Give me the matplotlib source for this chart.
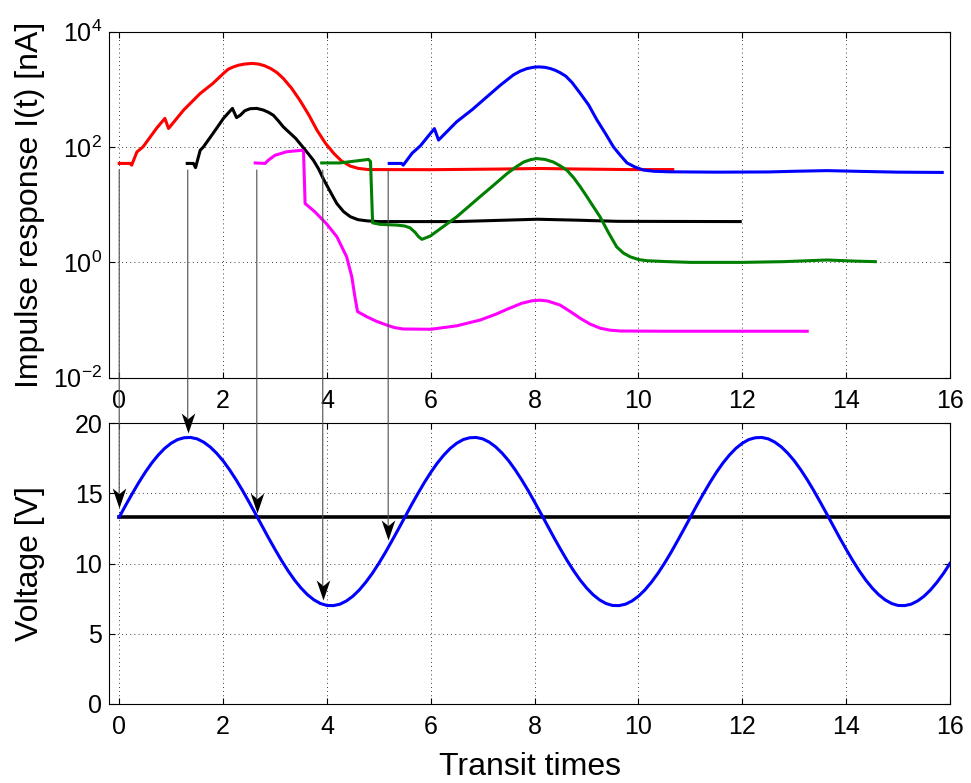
# Impulse response of the detector (top, log scale) and the applied voltage (bottom)
# Arrows link the start of each response to the voltage at that instant


# import libraries
import matplotlib
matplotlib.use("Agg")
import matplotlib.pyplot as plt
from matplotlib.patches import ConnectionPatch
from matplotlib.path import Path


# response curves (time in transit times, current in nA)
red_t = [0.0, 0.21, 0.24, 0.34, 0.46, 0.72, 0.88, 0.95, 1.24, 1.56, 1.80, 2.01, 2.10, 2.20, 2.30, 2.42, 2.55, 2.68,
         2.80, 2.92, 3.04, 3.16, 3.32, 3.48, 3.65, 3.81, 3.97, 4.13, 4.28, 4.45, 4.60, 4.80, 6.0, 7.3, 8.1, 8.9,
         9.8, 10.66]
red_I = [52, 52, 48.5, 82, 101, 212, 314, 210, 437, 850, 1259, 1900, 2239, 2455, 2630, 2754, 2818, 2754,
         2570, 2291, 1950, 1549, 1047, 646, 363, 195, 117, 78, 57.5, 46.8, 42.7, 40.7, 40.5, 41.5, 42.5, 41.5,
         40.7, 40.7]

black_t = [1.31, 1.43, 1.47, 1.56, 1.62, 1.81, 2.01, 2.18, 2.26, 2.33, 2.42, 2.52, 2.65, 2.78, 2.88, 2.97, 3.06,
           3.16, 3.29, 3.40, 3.48, 3.61, 3.74, 3.84, 3.93, 4.05, 4.19, 4.32, 4.45, 4.60, 4.77, 5.0, 6.5, 7.3,
           8.05, 8.8, 9.6, 11.96]
black_I = [52, 52, 44, 88, 100, 174, 316, 468, 324, 355, 427, 462, 468, 437, 398, 355, 288,
           224, 174, 141, 115, 83, 59, 41.7, 28.2, 17.8, 10.5, 7.6, 6.2, 5.5, 5.25, 5.1, 5.1, 5.35,
           5.6, 5.4, 5.15, 5.1]

magenta_t = [2.62, 2.81, 2.87, 3.0, 3.23, 3.52, 3.55, 3.58, 3.77, 3.99, 4.19, 4.38, 4.48, 4.54, 4.59, 4.77, 4.95,
             5.15, 5.30, 5.47, 6.0, 6.5, 6.95, 7.25, 7.5, 7.75, 7.95, 8.1, 8.25, 8.49, 8.7, 8.88, 9.07, 9.26,
             9.45, 9.65, 10.5, 13.25]
magenta_I = [53, 52, 59, 72, 83, 88, 83, 10.5, 7.5, 4.7, 2.8, 1.25, 0.56, 0.25, 0.14, 0.114, 0.0955,
             0.082, 0.074, 0.070, 0.0692, 0.0794, 0.100, 0.126, 0.158, 0.195, 0.216, 0.221, 0.214, 0.182, 0.138,
             0.107, 0.0851, 0.0724, 0.0668, 0.0646, 0.064, 0.064]

green_t = [3.90, 4.25, 4.80, 4.84, 4.88, 5.02, 5.35, 5.50, 5.60, 5.70, 5.76, 5.83, 5.99, 6.5, 6.95, 7.2, 7.47, 7.65,
           7.79, 7.92, 8.04, 8.2, 8.36, 8.5, 8.62, 8.75, 8.88, 9.0, 9.13, 9.26, 9.42, 9.58, 9.71, 9.84, 10.0,
           10.16, 10.5, 11.0, 12.0, 12.8, 13.63, 14.2, 14.56]
green_I = [53, 53, 61, 56, 4.85, 4.57, 4.43, 4.27, 3.98, 3.31, 2.82, 2.51, 2.86, 6.17, 13.8, 21.4, 34.7, 45.7,
           55, 60.3, 63.1, 61, 55, 46.8, 39.8, 29.5, 20.4, 14.1, 9.3, 6.17, 3.31, 1.86, 1.45, 1.25, 1.12,
           1.07, 1.035, 1.0, 1.0, 1.03, 1.1, 1.05, 1.03]

blue_t = [5.20, 5.44, 5.47, 5.64, 5.80, 6.07, 6.15, 6.5, 6.8, 7.08, 7.35, 7.59, 7.72, 7.85, 7.98, 8.08, 8.2, 8.3,
          8.4, 8.49, 8.6, 8.72, 8.88, 9.04, 9.20, 9.36, 9.52, 9.65, 9.78, 9.94, 10.10, 10.3, 10.6, 11.5, 12.5,
          13.0, 13.63, 14.3, 15.0, 15.85]
blue_I = [52, 52, 48.5, 78, 105, 209, 132, 275, 447, 741, 1202, 1778, 2065, 2291, 2421, 2455, 2410, 2301,
          2138, 1950, 1698, 1318, 851, 537, 295, 174, 100, 72, 53, 44.7, 39.8, 38, 37.2, 36.7, 37,
          38, 39, 37.8, 36.7, 36.3]

# applied voltage, read every eighth of a transit time from 0 to 16
volt_t = [i * 0.125 for i in range(129)]
volt_V = [13.31, 14.16, 14.98, 15.77, 16.50, 17.16, 17.73, 18.21, 18.58, 18.84, 18.97, 18.99, 18.89, 18.66, 18.32,
          17.87, 17.33, 16.69, 15.98, 15.21, 14.39, 13.55, 12.69, 11.84, 11.02, 10.23, 9.50, 8.84, 8.27, 7.79,
          7.42, 7.16, 7.02, 7.01, 7.11, 7.34, 7.68, 8.13, 8.68, 9.31, 10.02, 10.79, 11.61, 12.45,
          13.31, 14.16, 14.98, 15.77, 16.50, 17.16, 17.73, 18.21, 18.58, 18.84, 18.97, 18.99, 18.89, 18.66, 18.32,
          17.87, 17.33, 16.69, 15.98, 15.21, 14.39, 13.55, 12.69, 11.84, 11.02, 10.23, 9.50, 8.84, 8.27, 7.79,
          7.42, 7.16, 7.02, 7.01, 7.11, 7.34, 7.68, 8.13, 8.68, 9.31, 10.02, 10.79, 11.61, 12.45,
          13.31, 14.16, 14.98, 15.77, 16.50, 17.16, 17.73, 18.21, 18.58, 18.84, 18.97, 18.99, 18.89, 18.66, 18.32,
          17.87, 17.33, 16.69, 15.98, 15.21, 14.39, 13.55, 12.69, 11.84, 11.02, 10.23, 9.50, 8.84, 8.27, 7.79,
          7.42, 7.16, 7.02, 7.01, 7.11, 7.34, 7.68, 8.13, 8.68, 9.31, 10.02]

# threshold voltage line
thresh_t = [0, 16]
thresh_V = [13.35, 13.35]

# arrows: start time of each response, current where the arrow leaves, voltage where the head tip stops
arrow_t = [0.0, 1.32, 2.65, 3.92, 5.18]
arrow_I = 40
arrow_V = [14.0, 19.3, 13.6, 7.4, 11.7]


# fonts close to the original Arial look
plt.rcParams['font.family'] = ['Liberation Sans', 'DejaVu Sans']
plt.rcParams['mathtext.fontset'] = 'custom'
plt.rcParams['mathtext.rm'] = 'Liberation Sans'
plt.rcParams['mathtext.it'] = 'Liberation Sans:italic'
plt.rcParams['axes.linewidth'] = 0.8

fig = plt.figure(figsize=(9.71, 7.83), dpi=100)
ax1 = fig.add_axes([0.1126, 0.5176, 0.8658, 0.4419])
ax2 = fig.add_axes([0.1126, 0.1009, 0.8658, 0.3585])

grid_style = dict(linestyle=(0, (1, 4)), color='k', linewidth=0.6)

# top panel: impulse responses
lw = 2.2
ax1.semilogy(red_t, red_I, color='#ff0000', lw=lw)
ax1.semilogy(black_t, black_I, color='k', lw=lw)
ax1.semilogy(magenta_t, magenta_I, color='#ff00ff', lw=lw)
ax1.semilogy(green_t, green_I, color='#008000', lw=lw)
ax1.semilogy(blue_t, blue_I, color='#0000ff', lw=lw)
ax1.set_xlim(-0.19, 16)
ax1.set_ylim(1e-2, 1e4)
ax1.set_yticks([1e-2, 1e0, 1e2, 1e4])
ax1.minorticks_off()
ax1.set_xticks(range(0, 17, 2))
ax1.grid(True, **grid_style)
ax1.set_ylabel("Impulse response I(t) [nA]", fontsize=23)
ax1.yaxis.set_label_coords(-0.076, 0.5)

# bottom panel: applied voltage
ax2.plot(thresh_t, thresh_V, color='k', lw=2.6)
ax2.plot(volt_t, volt_V, color='#0000ff', lw=lw)
ax2.set_xlim(-0.19, 16)
ax2.set_ylim(0, 20)
ax2.set_yticks(range(0, 21, 5))
ax2.set_xticks(range(0, 17, 2))
ax2.grid(True, **grid_style)
ax2.set_ylabel("Voltage [V]", fontsize=23)
ax2.yaxis.set_label_coords(-0.076, 0.5)
ax2.set_xlabel("Transit times", fontsize=23, labelpad=9)

for ax in (ax1, ax2):
    ax.tick_params(direction='in', top=True, right=True, length=4, width=0.8, labelsize=18)
    ax.tick_params(axis='x', pad=8)
    ax.tick_params(axis='y', pad=5)

# notched arrow head, tip at the origin, pointing down
head_path = Path([(0, 0), (-0.34, 1.0), (0, 0.72), (0.34, 1.0), (0, 0)],
                 [Path.MOVETO, Path.LINETO, Path.LINETO, Path.LINETO, Path.CLOSEPOLY])

# arrows cross from the top panel into the bottom panel
for t, v in zip(arrow_t, arrow_V):
    con = ConnectionPatch(xyA=(t, arrow_I), coordsA=ax1.transData, xyB=(t, v + 1.0), coordsB=ax2.transData,
                          arrowstyle='-', color='0.3', lw=0.8)
    fig.add_artist(con)
    ax2.plot([t], [v], marker=head_path, markersize=28.8, color='k', markeredgewidth=0,
             clip_on=False, zorder=5)

fig.savefig("out.png", dpi=100)
